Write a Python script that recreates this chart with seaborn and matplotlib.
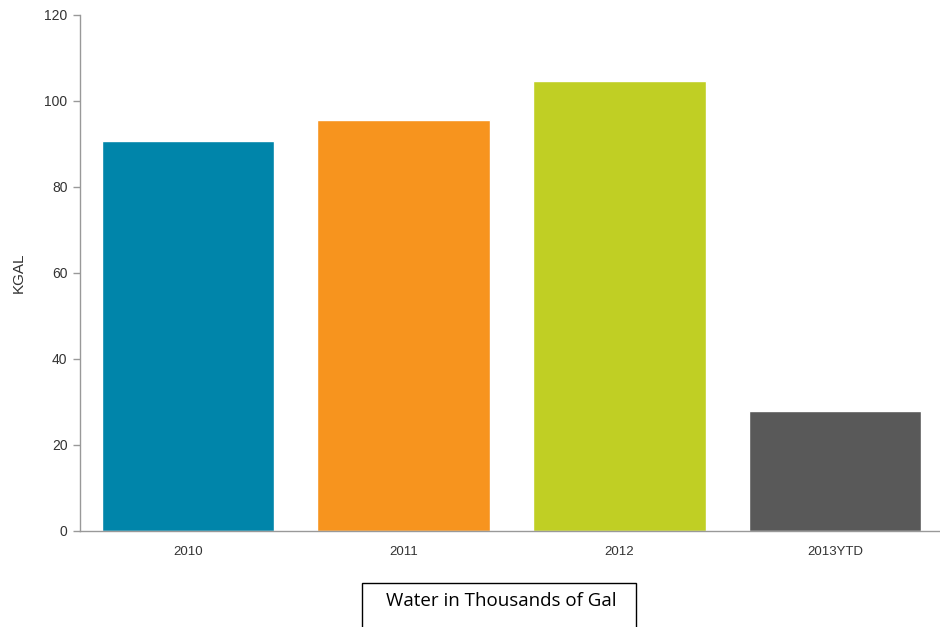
import matplotlib
matplotlib.use("Agg")
import matplotlib.pyplot as plt
from matplotlib.patches import Rectangle
import seaborn as sns
import pandas as pd

# data
years = ["2010", "2011", "2012", "2013YTD"]
kgal = [90.7, 95.6, 104.7, 28.0]
bar_colors = ["#0085AA", "#F7941E", "#C0CF24", "#595959"]
y_ticks = [0, 20, 40, 60, 80, 100, 120]

df = pd.DataFrame({"year": years, "kgal": kgal})

sns.set_style("white")
plt.rcParams["font.family"] = ["Liberation Sans", "DejaVu Sans"]

fig = plt.figure(figsize=(9.4, 6.27), dpi=100)
# axes placed in pixel terms: left 80, bottom 531, top 15 (of 627)
ax = fig.add_axes([80 / 940, (627 - 531) / 627, 863 / 940, (531 - 15) / 627])

sns.barplot(data=df, x="year", y="kgal", hue="year", palette=bar_colors,
            width=0.8, saturation=1, legend=False, ax=ax)

ax.set_xlim(-0.5, 3.5)
ax.set_ylim(0, 120)
ax.set_yticks(y_ticks)

# spines: left and bottom only, grey
for side in ["top", "right"]:
    ax.spines[side].set_visible(False)
for side in ["left", "bottom"]:
    ax.spines[side].set_color("#999999")
    ax.spines[side].set_linewidth(1)

ax.tick_params(axis="y", length=5, width=1, color="#999999", pad=4,
               labelsize=10, labelcolor="#333333", left=True)
ax.tick_params(axis="x", length=0, pad=11, labelsize=9.5, labelcolor="#333333")

ax.set_xlabel("")
ax.set_ylabel("KGAL", fontsize=11, color="#333333")
ax.yaxis.set_label_coords((26 - 80) / 863, 0.5)

# caption box under the chart (runs off the bottom edge, like the reference)
fig.patches.append(Rectangle((362 / 940, -0.05), (636 - 362) / 940,
                             (627 - 583) / 627 + 0.05,
                             transform=fig.transFigure, facecolor="white",
                             edgecolor="black", linewidth=1))
fig.text(501 / 940, 1 - 601 / 627, "Water in Thousands of Gal",
         ha="center", va="center", fontsize=13.5, color="black",
         family=["Open Sans", "DejaVu Sans"])

fig.savefig("out.png", dpi=100)
